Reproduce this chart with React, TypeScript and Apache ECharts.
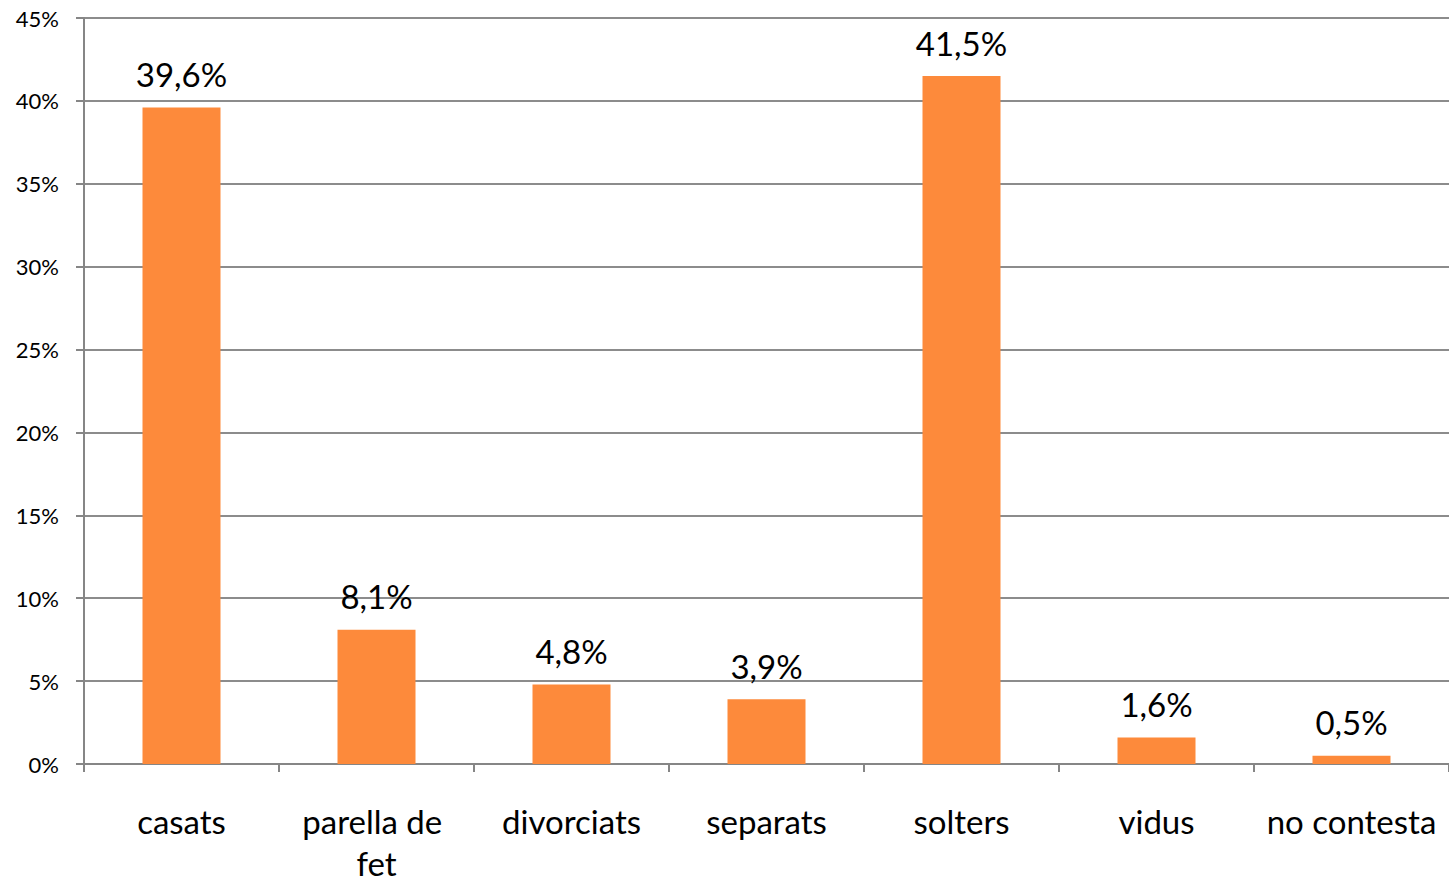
import React, { useEffect, useRef } from "react";
import * as echarts from "echarts";

const categories = ["casats", "parella de fet", "divorciats", "separats", "solters", "vidus", "no contesta"];
const values = [39.6, 8.1, 4.8, 3.9, 41.5, 1.6, 0.5];
const yTicks = { min: 0, max: 45, interval: 5 };

export default function App() {
  const ref = useRef<HTMLDivElement>(null);
  useEffect(() => {
    if (!ref.current) return;
    const chart = echarts.init(ref.current, null, { renderer: "svg" });
    const font = "Lato, 'Open Sans', sans-serif";
    chart.setOption({
      animation: false,
      textStyle: { fontFamily: font },
      grid: { left: 84, right: 0, top: 18, bottom: 121, containLabel: false, outerBoundsMode: "none" },
      xAxis: {
        type: "category",
        data: categories,
        boundaryGap: true,
        axisLine: { show: true, lineStyle: { color: "#868686", width: 2 } },
        axisTick: { show: true, length: 8, alignWithLabel: false, lineStyle: { color: "#868686", width: 2 } },
        axisLabel: {
          interval: 0,
          color: "#000",
          fontSize: 33,
          fontFamily: font,
          margin: 36,
          lineHeight: 42,
          width: 180,
          overflow: "break",
        },
      },
      yAxis: {
        type: "value",
        min: yTicks.min,
        max: yTicks.max,
        interval: yTicks.interval,
        axisLine: { show: true, lineStyle: { color: "#868686", width: 2 } },
        axisTick: { show: true, length: 8, lineStyle: { color: "#868686", width: 2 } },
        axisLabel: { formatter: "{value}%", color: "#000", fontSize: 22, fontFamily: font, margin: 25 },
        splitLine: { show: true, lineStyle: { color: "#8c8c8c", width: 2 } },
      },
      series: [
        {
          type: "bar",
          data: values,
          barWidth: "40%",
          itemStyle: { color: "#FD8A3B" },
          label: {
            show: true,
            position: "top",
            distance: 17,
            color: "#000",
            fontSize: 33,
            fontFamily: font,
            formatter: (p: any) => String(p.value).replace(".", ",") + "%",
          },
        },
      ],
    });
    return () => chart.dispose();
  }, []);
  return <div ref={ref} style={{ position: "fixed", left: 0, top: 0, width: 1449, height: 885, background: "#fff" }} />;
}
